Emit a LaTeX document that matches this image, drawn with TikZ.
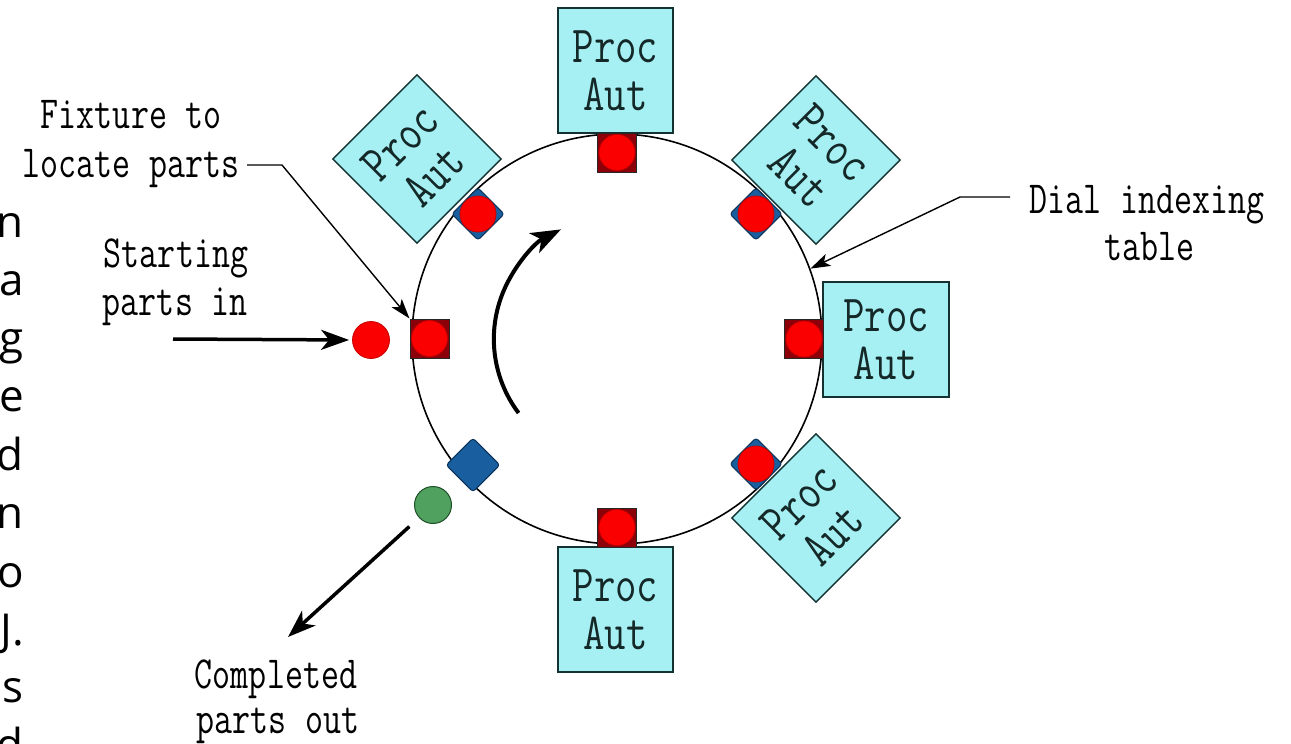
\documentclass[tikz,border=0pt]{standalone}
\usepackage{fontspec}
\newfontfamily\sidefont{Open Sans}
\usetikzlibrary{arrows.meta}
\newcommand\cnd[1]{\scalebox{0.8}[1]{#1}}
\newcommand\lcnd[1]{\scalebox{0.76}[1]{#1}}
\definecolor{boxfill}{RGB}{166,240,244}
\definecolor{boxline}{RGB}{20,50,50}
\definecolor{txt}{RGB}{20,40,40}
\definecolor{partred}{RGB}{250,0,0}
\definecolor{partredline}{RGB}{200,0,0}
\definecolor{fixred}{RGB}{140,0,10}
\definecolor{fixblue}{RGB}{25,95,160}
\definecolor{fixblueline}{RGB}{10,50,90}
\definecolor{partgreen}{RGB}{80,160,95}
\definecolor{greenline}{RGB}{30,80,40}
\begin{document}
\begin{tikzpicture}[x=1pt,y=-1pt,
  side/.style={font=\sidefont\fontsize{44}{44}\selectfont, inner sep=0pt, text=black},
  dialc/.style={draw=black, circle, line width=1.6pt, minimum size=410pt, inner sep=0pt},
  station/.style={draw=boxline, line width=1.5pt, fill=boxfill, text=txt,
    font=\ttfamily\fontsize{52}{48}\selectfont, align=center, inner sep=0pt},
  fixsq/.style={draw=black!85, fill=fixred, line width=1pt, minimum size=39pt, inner sep=0pt},
  part/.style={circle, draw=partredline, fill=partred, line width=0.8pt, minimum size=36pt, inner sep=0pt},
  fixdia/.style={draw=fixblueline, fill=fixblue, line width=1pt, minimum size=37pt, inner sep=0pt, rotate=45, rounded corners=3pt},
  gpart/.style={circle, draw=greenline, fill=partgreen, line width=1pt, minimum size=37pt, inner sep=0pt},
  lbl/.style={font=\ttfamily\fontsize{46}{48}\selectfont, inner sep=0pt, text=black, anchor=base},
  leader/.style={line width=1.4pt, -{Stealth[length=20pt,width=13pt,inset=5pt]}},
  bigarrow/.style={line width=3.5pt, -{Stealth[length=28pt,width=20pt,inset=8pt]}}
]
\useasboundingbox (0,0) rectangle (1291,744);
\clip (0,0) rectangle (1291,744);
\fill[white] (0,0) rectangle (1291,744);

% cut-off letters at the left edge
\foreach \l/\y [count=\i] in {n/237,a/295,g/353,e/411,d/470,n/528,o/587,J./645,s/702,d/760}
  \node[side, anchor=base east] (side\i) at (24,\y) {\l};

% dial indexing table
\node[dialc] (dial) at (617,339) {};

% processing stations
\node[station, minimum width=115pt, minimum height=125pt] (sT) at (615.5,70.5) {\cnd{Proc}\\\cnd{Aut}};
\node[station, minimum width=115pt, minimum height=125pt] (sB) at (615.5,609.5) {\cnd{Proc}\\\cnd{Aut}};
\node[station, minimum width=126pt, minimum height=115pt] (sR) at (886,339.5) {\cnd{Proc}\\\cnd{Aut}};
\node[station, minimum size=119pt, rotate=45] (sTL) at (417,159) {\cnd{Proc}\\\cnd{Aut}};
\node[station, minimum size=119pt, rotate=-45] (sTR) at (816,160) {\cnd{Proc}\\\cnd{Aut}};
\node[station, minimum size=119pt, rotate=45] (sBR) at (816,518) {\cnd{Proc}\\\cnd{Aut}};

% fixtures with parts
\node[fixsq] (fT) at (617,152.5) {}; \node[part] (pT) at (fT) {};
\node[fixsq] (fB) at (617,527.5) {}; \node[part] (pB) at (fB) {};
\node[fixsq] (fR) at (804,339) {};   \node[part] (pR) at (fR) {};
\node[fixsq] (fL) at (429.5,338.5) {}; \node[part] (pL) at (fL) {};
\node[fixdia] (fTL) at (478,214) {}; \node[part] (pTL) at (fTL) {};
\node[fixdia] (fTR) at (756,214) {}; \node[part] (pTR) at (fTR) {};
\node[fixdia] (fBR) at (756,464) {}; \node[part] (pBR) at (fBR) {};
\node[fixdia, minimum size=38pt] (fBL) at (473,465) {};

% loose parts
\node[part, minimum size=37pt] (pin) at (371,340) {};
\node[gpart] (pout) at (433,505) {};

% labels
\node[lbl] (fix1) at (131,128) {\lcnd{Fixture to}};
\node[lbl] (fix2) at (131,177) {\lcnd{locate parts}};
\node[lbl] (start1) at (176,267) {\lcnd{Starting}};
\node[lbl] (start2) at (175,315) {\lcnd{parts in}};
\node[lbl] (dial1) at (1147,213) {\lcnd{Dial indexing}};
\node[lbl] (dial2) at (1149,260) {\lcnd{table}};
\node[lbl] (comp1) at (276,688) {\lcnd{Completed}};
\node[lbl] (comp2) at (278,733) {\lcnd{parts out}};

% leaders and arrows
\coordinate (fixDash) at (247,165);
\coordinate (fixBend) at (282,165);
\draw[leader] (fixDash) -- (fixBend) -- (fL.north west);
\coordinate (dialDash) at (1010,197);
\coordinate (dialBend) at (960,197);
\draw[leader] (dialDash) -- (dialBend) -- (dial.20);
\coordinate (inStart) at (173,339);
\draw[bigarrow, shorten >=3pt] (inStart) -- (pin.west);
\coordinate (outEnd) at (288,637);
\draw[bigarrow, shorten <=13pt] (pout) -- (outEnd);
% rotation direction
\coordinate (rotStart) at (518.6,413);
\draw[line width=4pt, -{Stealth[length=30pt,width=22pt,inset=8pt]}]
  (rotStart) arc[start angle=143, end angle=243, radius=123];
\end{tikzpicture}
\end{document}
